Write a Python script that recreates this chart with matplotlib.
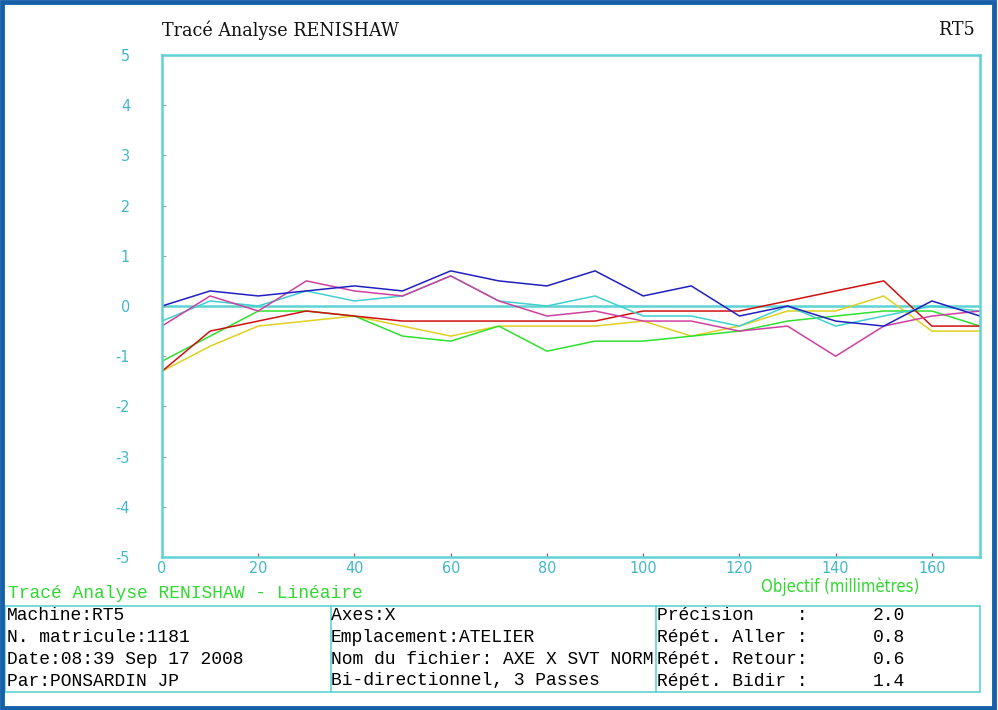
import matplotlib
matplotlib.use('Agg')
import matplotlib.pyplot as plt
from matplotlib.patches import Rectangle

plt.rcParams['axes.unicode_minus'] = False

# measurement positions (mm) and deviations for the six runs
pos = [0, 10, 20, 30, 40, 50, 60, 70, 80, 90, 100, 110, 120, 130, 140, 150, 160, 170]
blue = [0.0, 0.3, 0.2, 0.3, 0.4, 0.3, 0.7, 0.5, 0.4, 0.7, 0.2, 0.4, -0.2, 0.0, -0.3, -0.4, 0.1, -0.2]
cyan = [-0.3, 0.1, 0.0, 0.3, 0.1, 0.2, 0.6, 0.1, 0.0, 0.2, -0.2, -0.2, -0.4, 0.0, -0.4, -0.2, 0.0, -0.1]
magenta = [-0.4, 0.2, -0.1, 0.5, 0.3, 0.2, 0.6, 0.1, -0.2, -0.1, -0.3, -0.3, -0.5, -0.4, -1.0, -0.4, -0.2, -0.1]
red = [-1.3, -0.5, -0.3, -0.1, -0.2, -0.3, -0.3, -0.3, -0.3, -0.3, -0.1, -0.1, -0.1, 0.1, 0.3, 0.5, -0.4, -0.4]
green = [-1.1, -0.6, -0.1, -0.1, -0.2, -0.6, -0.7, -0.4, -0.9, -0.7, -0.7, -0.6, -0.5, -0.3, -0.2, -0.1, -0.1, -0.4]
yellow = [-1.3, -0.8, -0.4, -0.3, -0.2, -0.4, -0.6, -0.4, -0.4, -0.4, -0.3, -0.6, -0.4, -0.1, -0.1, 0.2, -0.5, -0.5]

series = [(yellow, '#e0d020'), (green, '#30e030'), (red, '#d01010'),
          (cyan, '#40d0d0'), (magenta, '#d040a0'), (blue, '#2020c0')]

xticks = [0, 20, 40, 60, 80, 100, 120, 140, 160]
yticks = [-5, -4, -3, -2, -1, 0, 1, 2, 3, 4, 5]

col1 = ['Machine:RT5', 'N. matricule:1181', 'Date:08:39 Sep 17 2008', 'Par:PONSARDIN JP']
col2 = ['Axes:X', 'Emplacement:ATELIER', 'Nom du fichier: AXE X SVT NORM', 'Bi-directionnel, 3 Passes']
col3 = ['Précision    :', 'Répét. Aller :', 'Répét. Retour:', 'Répét. Bidir :']
vals = ['2.0', '0.8', '0.6', '1.4']

TEAL = '#5fd3d3'
W, H = 998, 710
MONO = dict(family='Liberation Mono', fontsize=13, va='center')
COND = dict(family='DejaVu Sans', fontstretch='condensed')

fig = plt.figure(figsize=(W / 100, H / 100), dpi=100)
fig.patch.set_facecolor('white')

ax = fig.add_axes([162 / W, 1 - 557 / H, 818 / W, 502 / H])
ax.axhline(0, color=TEAL, lw=1.8, zorder=1)
for ys, c in series:
    ax.plot(pos, ys, color=c, lw=1.1, zorder=2)
ax.set_xlim(0, 170)
ax.set_ylim(-5, 5)
for s in ax.spines.values():
    s.set_color(TEAL); s.set_linewidth(1.8)
ax.set_xticks(xticks)
ax.set_yticks(yticks)
ax.tick_params(axis='x', direction='in', length=3, color='#e03030', labelcolor='#40b8c8', pad=3)
ax.tick_params(axis='y', direction='in', length=3, color='#a0a0a0', labelcolor='#40b8c8', pad=23)
for lab in ax.get_xticklabels() + ax.get_yticklabels():
    lab.set_family('DejaVu Sans'); lab.set_fontstretch('condensed'); lab.set_fontsize(11.5)

fig.text(162 / W, 1 - 30 / H, 'Tracé Analyse RENISHAW', family='DejaVu Serif', fontstretch='condensed',
         fontsize=14, va='center', ha='left', color='#111111')
fig.text(975 / W, 1 - 30 / H, 'RT5', family='DejaVu Serif', fontstretch='condensed', fontsize=14,
         va='center', ha='right', color='#111111')
fig.text(840 / W, 1 - 587 / H, 'Objectif (millimètres)', fontsize=12, color='#30d830',
         ha='center', va='center', **COND)
fig.text(8 / W, 1 - 594 / H, 'Tracé Analyse RENISHAW - Linéaire', color='#30d830', **MONO)

# info table
fig.add_artist(Rectangle((5 / W, 1 - 692 / H), 975 / W, 86 / H, transform=fig.transFigure,
                         fill=False, ec=TEAL, lw=1.2))
for xv in [331, 656]:
    fig.add_artist(plt.Line2D([xv / W, xv / W], [1 - 692 / H, 1 - 606 / H], color=TEAL, lw=1.2))
rows_y = [616, 638, 660, 681]
for i, y in enumerate(rows_y):
    yy = 1 - y / H
    fig.text(7 / W, yy, col1[i], **MONO)
    fig.text(331 / W, yy, col2[i], **MONO)
    fig.text(657 / W, yy, col3[i], **MONO)
    fig.text(873 / W, yy, vals[i], **MONO)

# outer window border
fig.add_artist(Rectangle((0.002, 0.003), 0.994, 0.994, transform=fig.transFigure,
                         fill=False, ec='#1560a8', lw=3.5))

fig.savefig('out.png', dpi=100)
